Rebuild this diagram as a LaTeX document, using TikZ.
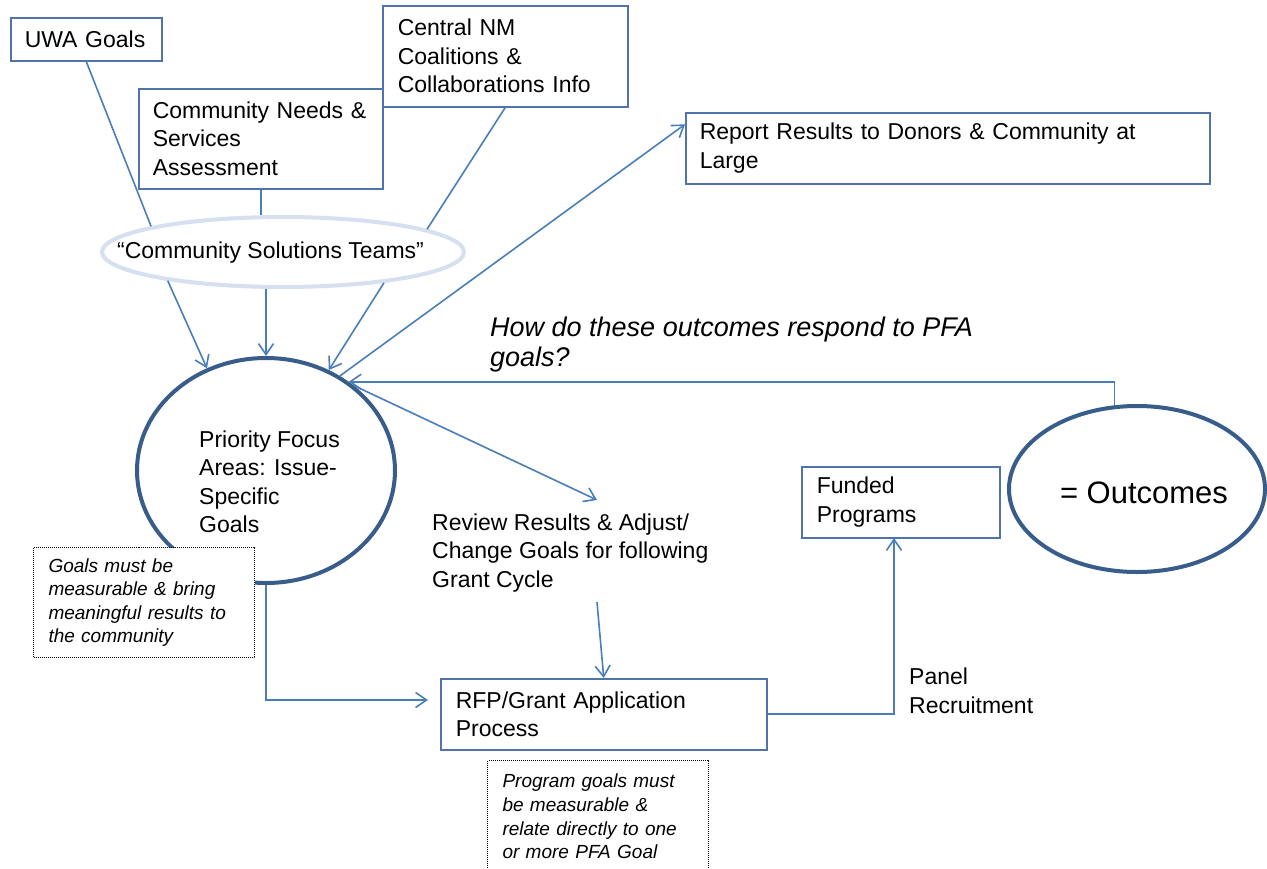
\documentclass[tikz,border=0pt]{standalone}
\usepackage{fontspec}
\setmainfont{Liberation Sans}
\usetikzlibrary{arrows.meta,calc,shapes.geometric}
\definecolor{lineblue}{RGB}{74,126,187}
\definecolor{boxblue}{RGB}{79,115,170}
\definecolor{circblue}{RGB}{56,93,138}
\definecolor{paleblue}{RGB}{214,224,240}
\newcommand{\mainsize}{\fontsize{23}{28.5}\selectfont}
\newcommand{\notesize}{\fontsize{19}{23.6}\selectfont\itshape}
\begin{document}
\begin{tikzpicture}[x=1pt,y=-1pt,
  box/.style={draw=boxblue,line width=1.5pt,fill=white,anchor=north west,align=left,inner ysep=0pt,font=\mainsize},
  note/.style={draw=black,dash pattern=on 1pt off 1pt,line width=1pt,fill=white,anchor=north west,align=left,inner ysep=0pt,font=\notesize},
  txt/.style={anchor=west,align=left,inner sep=0pt,font=\mainsize},
  bigell/.style={ellipse,draw=circblue,line width=4pt,fill=white,inner sep=0pt},
  conn/.style={draw=lineblue,line width=1.6pt},
  arr/.style={conn,-{Straight Barb[length=11pt,width=15pt]}}
]
\useasboundingbox[fill=white] (0,0) rectangle (1267,868);

% boxes
\node[box,minimum width=151pt,minimum height=43pt,text width=123pt,inner xsep=14pt] (uwa) at (10,17) {UWA Goals};
\node[box,minimum width=245pt,minimum height=101pt,text width=215pt,inner xsep=15pt] (cnm) at (382,5) {Central NM\\Coalitions \&\\Collaborations Info};
\node[box,minimum width=244pt,minimum height=100pt,text width=216pt,inner xsep=14pt] (cn) at (138,88) {Community Needs \&\\Services\\Assessment};
\node[box,minimum width=524pt,minimum height=71pt,text width=496pt,inner xsep=14pt] (rep) at (685,112) {Report Results to Donors \& Community at\\Large};
\node[box,minimum width=326pt,minimum height=71pt,text width=296pt,inner xsep=15pt] (rfp) at (440,678) {RFP/Grant Application\\Process};
\node[box,minimum width=198pt,minimum height=71pt,text width=168pt,inner xsep=15pt] (fund) at (801,466) {Funded\\Programs};

% ellipses
\node[ellipse,draw=paleblue,line width=4pt,fill=white,minimum width=362pt,minimum height=70pt,inner sep=0pt] (cst) at (283,252) {};
\node[font=\mainsize,inner sep=0pt] (csttext) at (270.5,253) {“Community Solutions Teams”};
\node[bigell,minimum width=258pt,minimum height=225pt] (pfa) at (266,470.5) {};
\node[txt] (pfatext) at (199,482) {Priority Focus\\Areas: Issue-\\Specific\\Goals};
\node[bigell,minimum width=256pt,minimum height=166pt] (out) at (1137,489) {};
\node[font=\fontsize{31}{37}\selectfont,inner sep=0pt] (outtext) at (1144,493) {= Outcomes};

% free texts
\node[txt,font=\fontsize{27}{30}\selectfont\itshape] (q) at (490,345) {How do these outcomes respond to PFA\\goals?};
\node[txt] (rev) at (432,553) {Review Results \& Adjust/\\Change Goals for following\\Grant Cycle};
\node[txt] (panel) at (909,691) {Panel\\Recruitment};

% notes
\node[note,minimum width=221pt,minimum height=110pt,text width=191pt,inner xsep=15pt] (note1) at (33,547) {Goals must be\\measurable \& bring\\meaningful results to\\the community};
\node[note,minimum width=221pt,minimum height=112pt,text width=191pt,inner xsep=15pt] (note2) at (487,760) {Program goals must\\be measurable \&\\relate directly to one\\or more PFA Goal};

% free ends
\coordinate (revin) at (597,500);
\coordinate (revout) at (597,602);
\coordinate (rfpin) at (428,700);
\coordinate (fundin) at (894,538);

% connectors
\draw[conn] (uwa.south) -- (cst.169.7);
\draw[conn] (cn.south) -- (cn.south |- cst.north);
\draw[conn] (cnm.south) -- (cst.9.3);
\draw[arr] (cst.194.2) -- (pfa.120.5);
\draw[arr] (pfa.north |- cst.south) -- (pfa.north);
\draw[arr] (cst.343.7) -- (pfa.58.4);
\draw[arr] (pfa.52.4) -- ($(rep.north west)!0.17!(rep.south west)$);
\draw[arr] (out.105) |- (pfa.47.2);
\draw[arr] (pfa.44.3) -- (revin);
\draw[arr] (revout) -- (rfp.north);
\draw[arr] (pfa.south) |- (rfpin);
\draw[arr] (rfp.east) -| (fundin);
\end{tikzpicture}
\end{document}
